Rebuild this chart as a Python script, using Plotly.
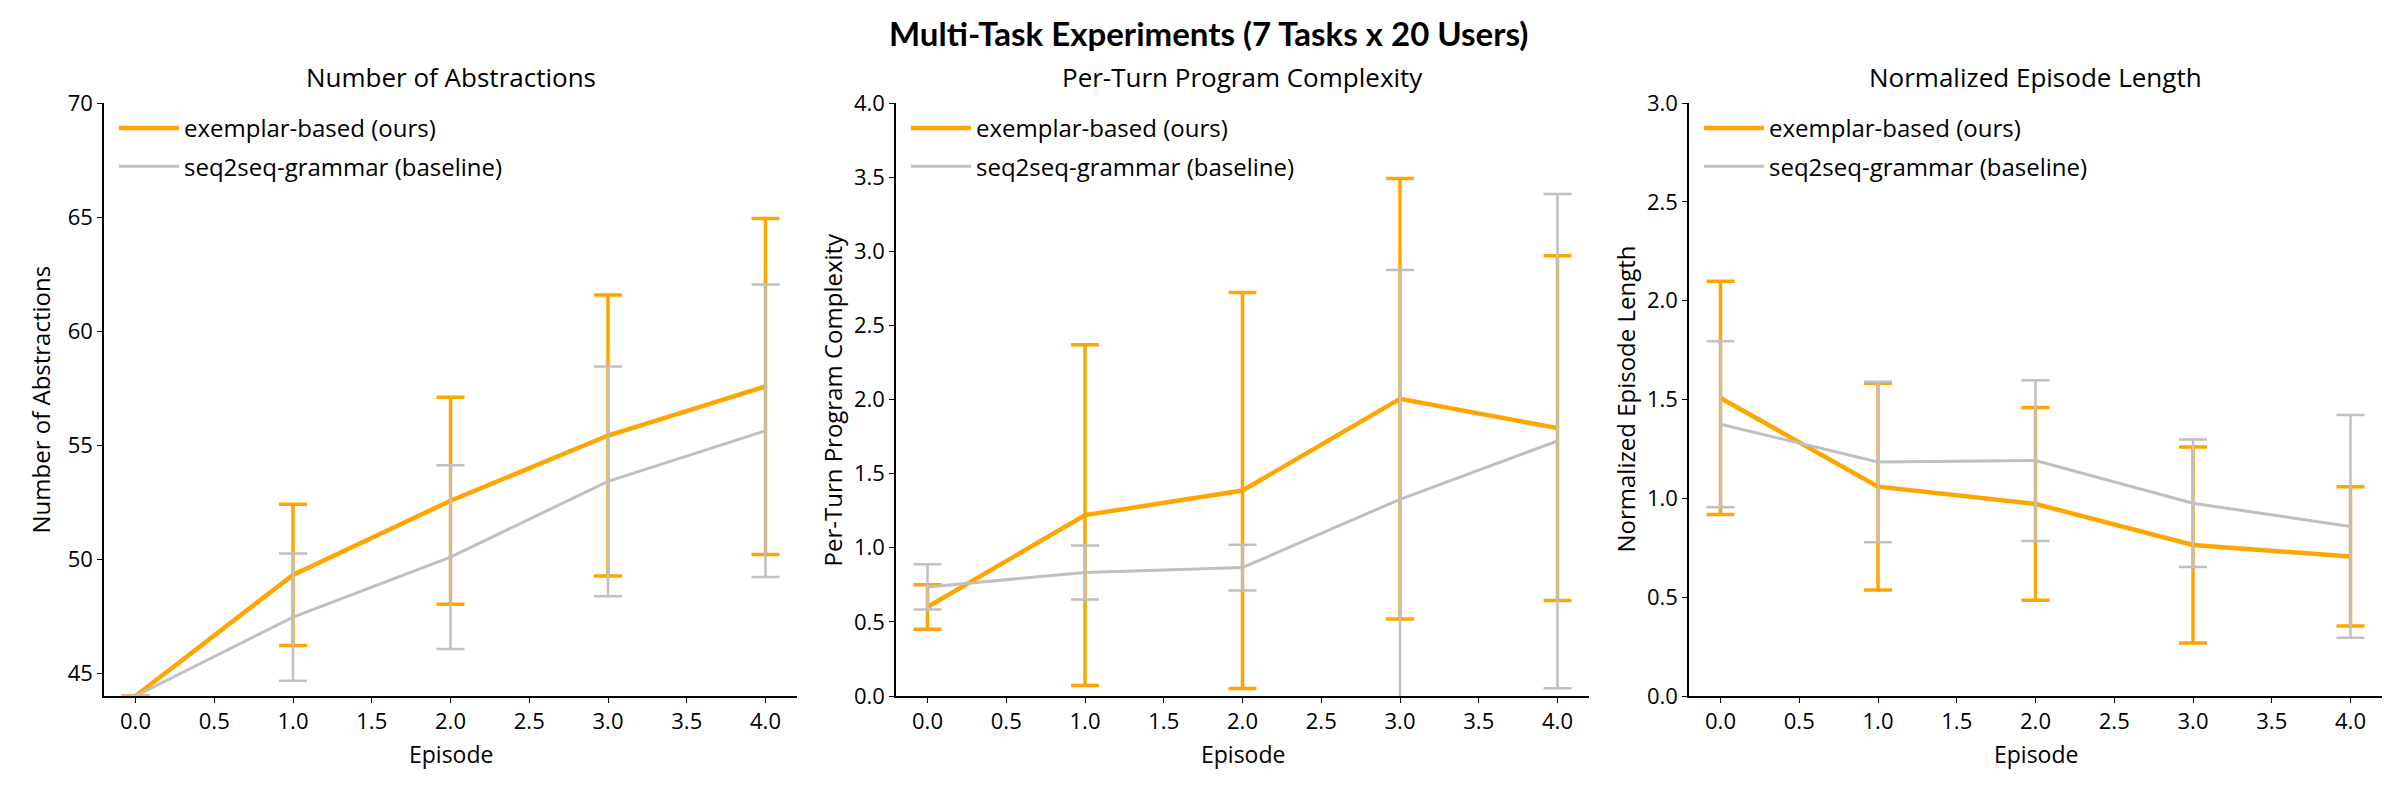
import plotly.graph_objects as go

episodes = [0, 1, 2, 3, 4]
series_names = ["exemplar-based (ours)", "seq2seq-grammar (baseline)"]

# Panel 1: Number of Abstractions
abs_ex_mean = [44.0, 49.31, 52.56, 55.42, 57.57]
abs_ex_std = [0.0, 3.10, 4.54, 6.16, 7.37]
abs_bl_mean = [44.0, 47.46, 50.09, 53.41, 55.63]
abs_bl_std = [0.0, 2.79, 4.03, 5.04, 6.41]

# Panel 2: Per-Turn Program Complexity
cpx_ex_mean = [0.60, 1.22, 1.386, 2.005, 1.807]
cpx_ex_std = [0.15, 1.15, 1.335, 1.485, 1.163]
cpx_bl_mean = [0.736, 0.833, 0.866, 1.327, 1.72]
cpx_bl_std = [0.152, 0.182, 0.154, 1.546, 1.667]

# Panel 3: Normalized Episode Length
len_ex_mean = [1.508, 1.059, 0.972, 0.764, 0.706]
len_ex_std = [0.59, 0.523, 0.487, 0.496, 0.352]
len_bl_mean = [1.375, 1.184, 1.191, 0.975, 0.858]
len_bl_std = [0.42, 0.406, 0.407, 0.323, 0.563]

panel_titles = ["Number of Abstractions", "Per-Turn Program Complexity", "Normalized Episode Length"]
x_title = "Episode"
y_ranges = [[44, 70], [0, 4], [0, 3]]
y_dticks = [5, 0.5, 0.5]
y_tick0 = [45, 0, 0]
y_formats = ["d", ".1f", ".1f"]
x_ticks = [0, 0.5, 1, 1.5, 2, 2.5, 3, 3.5, 4]

ORANGE = "#FFA500"
GRAY = "#C0C0C0"
FONT = "Open Sans"

W, H = 2400, 800
panel_px = [(96, 789), (888, 1581), (1681, 2374)]
y_dom = [1 - 688 / H, 1 - 95 / H]

data = [
    (abs_ex_mean, abs_ex_std, abs_bl_mean, abs_bl_std),
    (cpx_ex_mean, cpx_ex_std, cpx_bl_mean, cpx_bl_std),
    (len_ex_mean, len_ex_std, len_bl_mean, len_bl_std),
]

fig = go.Figure()
layout = dict(
    width=W, height=H,
    margin=dict(l=0, r=0, t=0, b=0),
    paper_bgcolor="white", plot_bgcolor="white",
    font=dict(family=FONT, color="black", size=20),
    annotations=[],
)

for i, (em, es, bm, bs) in enumerate(data):
    sfx = "" if i == 0 else str(i + 1)
    xa, ya = "x" + sfx, "y" + sfx
    leg = "legend" + sfx
    fig.add_trace(go.Scatter(
        x=episodes, y=em, mode="lines", name=series_names[0],
        line=dict(color=ORANGE, width=4.5),
        error_y=dict(type="data", array=es, visible=True, color=ORANGE, thickness=3.5, width=14),
        xaxis=xa, yaxis=ya, legend=leg, legendgroup="a" + sfx,
    ))
    fig.add_trace(go.Scatter(
        x=episodes, y=bm, mode="lines", name=series_names[1],
        line=dict(color=GRAY, width=3),
        error_y=dict(type="data", array=bs, visible=True, color=GRAY, thickness=2.5, width=14),
        xaxis=xa, yaxis=ya, legend=leg, legendgroup="b" + sfx,
    ))
    x0, x1 = panel_px[i]
    common = dict(showline=True, linecolor="black", linewidth=1.5, ticks="outside",
                  ticklen=5, tickwidth=1.2, tickcolor="black", showgrid=False,
                  zeroline=False, mirror=False, automargin=False,
                  tickfont=dict(family=FONT, size=22, color="black"))
    layout["xaxis" + sfx] = dict(
        domain=[x0 / W, x1 / W], anchor=ya, range=[-0.2, 4.2],
        tickvals=x_ticks, tickformat=".1f", **common)
    layout["yaxis" + sfx] = dict(
        domain=y_dom, anchor=xa, range=y_ranges[i],
        tick0=y_tick0[i], dtick=y_dticks[i], tickformat=y_formats[i], **common)
    layout[leg] = dict(
        x=(x0 + 10) / W, y=1 - 98 / H, xanchor="left", yanchor="top",
        bgcolor="rgba(0,0,0,0)", borderwidth=0,
        font=dict(family=FONT, size=24, color="black"),
        tracegroupgap=4, itemwidth=60,
    )
    # subplot title
    layout["annotations"].append(dict(
        text=panel_titles[i], x=(x0 + x1) / 2 / W, y=1 - 69 / H,
        xref="paper", yref="paper", xanchor="center", yanchor="middle",
        showarrow=False, font=dict(family=FONT, size=26, color="black"),
    ))
    # x-axis title
    layout["annotations"].append(dict(
        text=x_title, x=(x0 + x1) / 2 / W, y=1 - 746 / H,
        xref="paper", yref="paper", xanchor="center", yanchor="middle",
        showarrow=False, borderpad=0, font=dict(family=FONT, size=23, color="black"),
    ))
    # y-axis title
    layout["annotations"].append(dict(
        text=panel_titles[i], x=(x0 - 64) / W, y=(y_dom[0] + y_dom[1]) / 2,
        xref="paper", yref="paper", xanchor="center", yanchor="middle",
        textangle=-90, showarrow=False, font=dict(family=FONT, size=24, color="black"),
    ))

layout["annotations"].append(dict(
    text="<b>Multi-Task Experiments (7 Tasks x 20 Users)</b>", x=0.5, y=1 - 25 / H,
    xref="paper", yref="paper", xanchor="center", yanchor="middle",
    showarrow=False, font=dict(family="Lato", size=33, color="black", weight=900),
))

fig.update_layout(**layout)
fig.write_html("out.html")
